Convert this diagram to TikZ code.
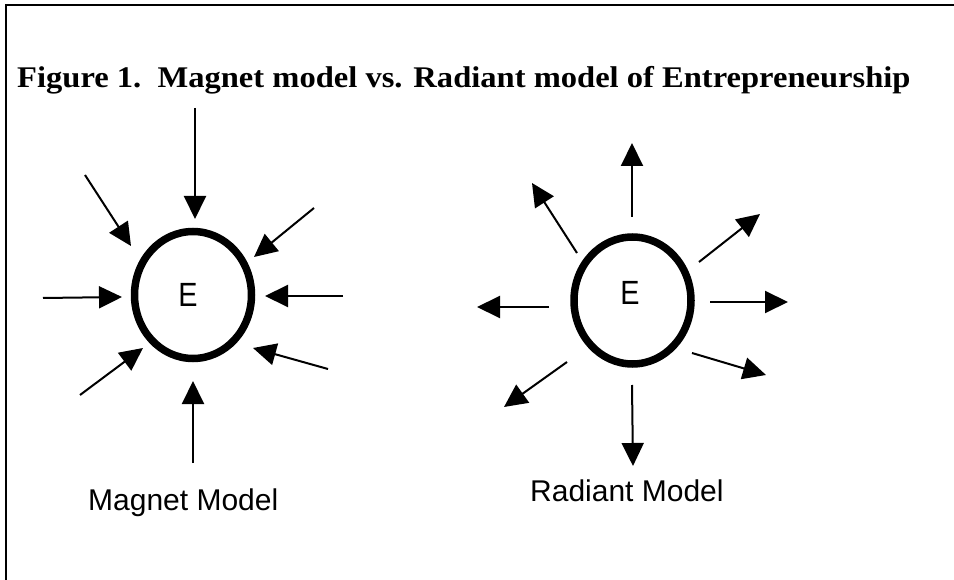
\documentclass[tikz,border=0pt]{standalone}
\usepackage{fontspec}
\setmainfont{Liberation Serif}
\newfontfamily\labelfont{Liberation Sans}
\usetikzlibrary{arrows.meta,shapes.geometric}
\begin{document}
\begin{tikzpicture}[x=1pt,y=-1pt,
  ring/.style={draw,line width=7.5pt,ellipse,minimum width=117pt,minimum height=127pt,inner sep=0pt},
  ray/.style={line width=2pt,-{Triangle[length=23pt,width=22pt]}},
  lbl/.style={font=\labelfont\fontsize{30}{30}\selectfont,inner sep=0pt,anchor=base west},
  ettr/.style={font=\labelfont\fontsize{32}{32}\selectfont,inner sep=0pt},
  ttl/.style={font=\bfseries\fontsize{30}{30}\selectfont,inner sep=0pt,anchor=base west}]
\useasboundingbox (0,0) rectangle (954,580);
\draw[line width=2pt] (954,5.5) -- (5.5,5.5) -- (5.5,580);
\node[ttl] (title) at (17,88) {\scalebox{1.085}[1]{Figure 1.\ \ Magnet model vs. Radiant model of Entrepreneurship}};
% magnet model
\node[ring] (mc) at (193,295) {};
\node[ettr] (me) at (188,295) {\scalebox{0.9}[1.05]{E}};
\coordinate (m1s) at (195,108); \coordinate (m1t) at (195,219);
\coordinate (m2s) at (85,175);  \coordinate (m2t) at (131,246);
\coordinate (m3s) at (314,208); \coordinate (m3t) at (254,257);
\coordinate (m4s) at (43,298);  \coordinate (m4t) at (122,297);
\coordinate (m5s) at (343,296); \coordinate (m5t) at (265,296);
\coordinate (m6s) at (80,395);  \coordinate (m6t) at (143,348);
\coordinate (m7s) at (328,369); \coordinate (m7t) at (253,348);
\coordinate (m8s) at (193,463); \coordinate (m8t) at (193,381);
\foreach \i in {1,...,8} \draw[ray] (m\i s) -- (m\i t);
\node[lbl] (ml) at (88,510) {Magnet Model};
% radiant model
\node[ring] (rc) at (632.5,300.5) {};
\node[ettr] (re) at (630,293) {\scalebox{0.9}[1.05]{E}};
\coordinate (r1s) at (632,217); \coordinate (r1t) at (632,143);
\coordinate (r2s) at (577,253); \coordinate (r2t) at (532,183);
\coordinate (r3s) at (699,262); \coordinate (r3t) at (760,214);
\coordinate (r4s) at (549,307); \coordinate (r4t) at (477,307);
\coordinate (r5s) at (710,302); \coordinate (r5t) at (788,302);
\coordinate (r6s) at (567,362); \coordinate (r6t) at (504,407);
\coordinate (r7s) at (692,353); \coordinate (r7t) at (766,375);
\coordinate (r8s) at (632,385); \coordinate (r8t) at (633,466);
\foreach \i in {1,...,8} \draw[ray] (r\i s) -- (r\i t);
\node[lbl] (rl) at (530,501) {Radiant Model};
\end{tikzpicture}
\end{document}
